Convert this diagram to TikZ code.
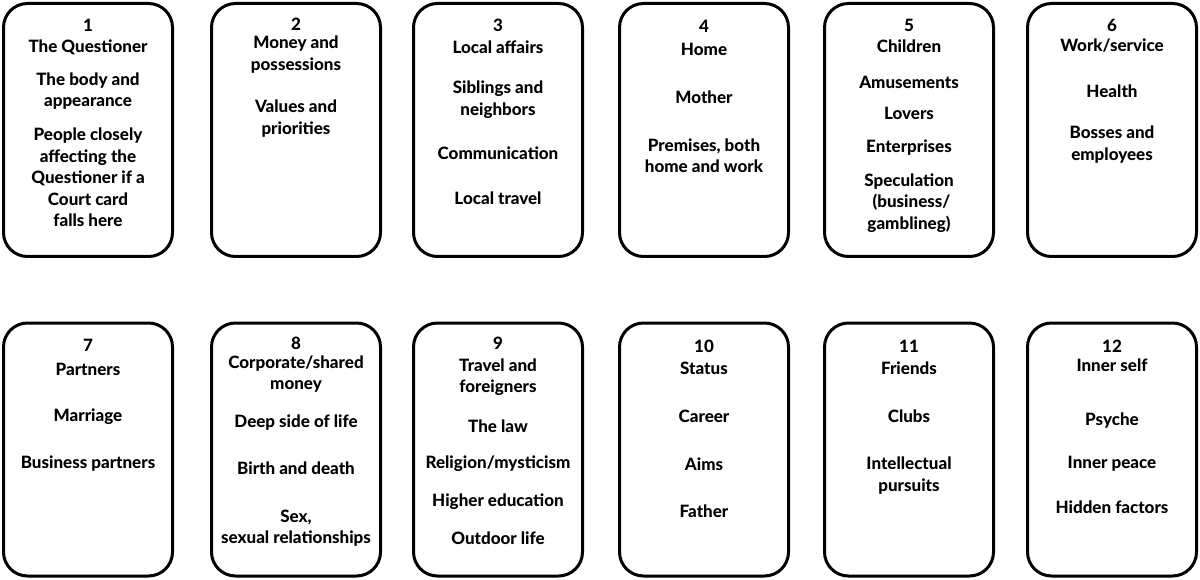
\documentclass[tikz,border=0pt]{standalone}
\usepackage{fontspec}
\setmainfont{Lato}[UprightFont={* Heavy}]
\tikzset{
  x=1pt,y=-1pt,
  card/.style={draw=black,line width=3pt,rounded corners=24pt,minimum width=169pt,minimum height=253pt,inner sep=0pt},
  txt/.style={align=center,inner sep=0pt,font=\fontsize{17}{21.5}\selectfont}
}
\begin{document}
\begin{tikzpicture}
\useasboundingbox (0,0) rectangle (1200,580);
% row 1
\node[card] (c1) at (88,130) {};
\node[card] (c2) at (296,130) {};
\node[card] (c3) at (498,130) {};
\node[card] (c4) at (704,130) {};
\node[card] (c5) at (909,130) {};
\node[card] (c6) at (1112,130) {};
% row 2
\node[card] (c7) at (88,449.5) {};
\node[card] (c8) at (296,449.5) {};
\node[card] (c9) at (498,449.5) {};
\node[card] (c10) at (704,449.5) {};
\node[card] (c11) at (909,449.5) {};
\node[card] (c12) at (1112,449.5) {};
% box 1
\node[txt] (t1a) at (88,25) {1};
\node[txt] (t1b) at (88,47) {The Questioner};
\node[txt] (t1c) at (88,91) {The body and\\appearance};
\node[txt] (t1d) at (88,177.5) {People closely\\affecting the\\Questioner if a\\Court card\\falls here};
% box 2
\node[txt] (t2a) at (296,24) {2};
\node[txt] (t2b) at (296,54.5) {Money and\\possessions};
\node[txt] (t2c) at (296,118.5) {Values and\\priorities};
% box 3
\node[txt] (t3a) at (498,25) {3};
\node[txt] (t3b) at (498,47) {Local affairs};
\node[txt] (t3c) at (498,99.5) {Siblings and\\neighbors};
\node[txt] (t3d) at (498,153) {Communication};
\node[txt] (t3e) at (498,198) {Local travel};
% box 4
\node[txt] (t4a) at (704,26) {4};
\node[txt] (t4b) at (704,49) {Home};
\node[txt] (t4c) at (704,97) {Mother};
\node[txt] (t4d) at (704,155.5) {Premises, both\\home and work};
% box 5
\node[txt] (t5a) at (909,25) {5};
\node[txt] (t5b) at (909,46) {Children};
\node[txt] (t5c) at (909,82) {Amusements};
\node[txt] (t5d) at (909,113) {Lovers};
\node[txt] (t5e) at (909,148) {Enterprises};
\node[txt] (t5f) at (909,203) {Speculation\\\hspace*{5pt}(business/\\gamblineg)};
% box 6
\node[txt] (t6a) at (1112,25) {6};
\node[txt] (t6b) at (1112,46) {Work/service};
\node[txt] (t6c) at (1112,91) {Health};
\node[txt] (t6d) at (1112,144.5) {Bosses and\\employees};
% box 7
\node[txt] (t7a) at (88,345) {7};
\node[txt] (t7b) at (88,369) {Partners};
\node[txt] (t7c) at (88,417) {Marriage};
\node[txt] (t7d) at (88,464) {Business partners};
% box 8
\node[txt] (t8a) at (296,343) {8};
\node[txt] (t8b) at (296,374) {Corporate/shared\\money};
\node[txt] (t8c) at (296,423) {Deep side of life};
\node[txt] (t8d) at (296,468) {Birth and death};
\node[txt] (t8e) at (296,528) {Sex,\\sexual relationships};
% box 9
\node[txt] (t9a) at (498,343) {9};
\node[txt] (t9b) at (498,377) {Travel and\\foreigners};
\node[txt] (t9c) at (498,426) {The law};
\node[txt] (t9d) at (498,464) {Religion/mysticism};
\node[txt] (t9e) at (498,502) {Higher education};
\node[txt] (t9f) at (498,538) {Outdoor life};
% box 10
\node[txt] (t10a) at (704,346) {10};
\node[txt] (t10b) at (704,368) {Status};
\node[txt] (t10c) at (704,416) {Career};
\node[txt] (t10d) at (704,464) {Aims};
\node[txt] (t10e) at (704,511) {Father};
% box 11
\node[txt] (t11a) at (909,346) {11};
\node[txt] (t11b) at (909,368) {Friends};
\node[txt] (t11c) at (909,416) {Clubs};
\node[txt] (t11d) at (909,475.5) {Intellectual\\pursuits};
% box 12
\node[txt] (t12a) at (1112,346) {12};
\node[txt] (t12b) at (1112,365) {Inner self};
\node[txt] (t12c) at (1112,421) {Psyche};
\node[txt] (t12d) at (1112,464) {Inner peace};
\node[txt] (t12e) at (1112,507) {Hidden factors};
\end{tikzpicture}
\end{document}
